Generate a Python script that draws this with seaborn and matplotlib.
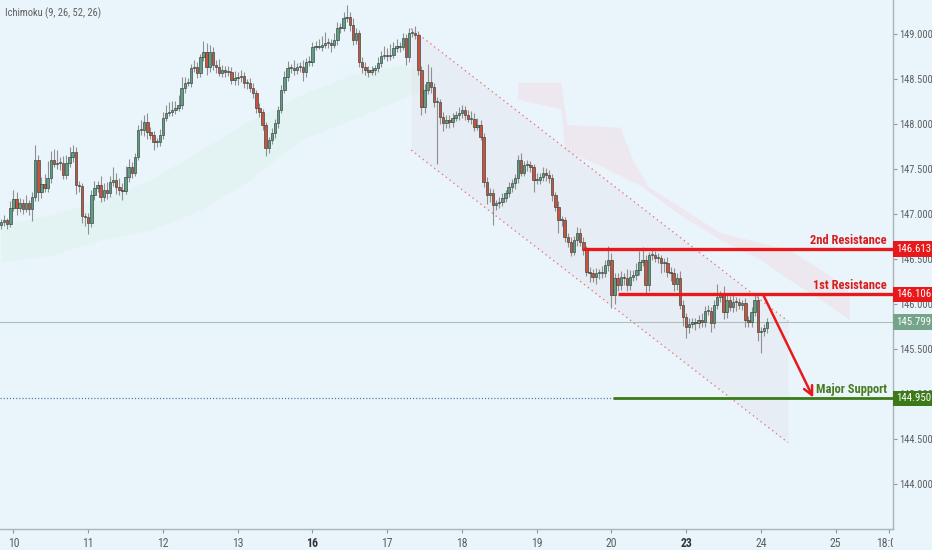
import numpy as np
import pandas as pd
import matplotlib
matplotlib.use('Agg')
import matplotlib.pyplot as plt
import seaborn as sns
from matplotlib import font_manager
from matplotlib.transforms import blended_transform_factory, Bbox, TransformedBbox

# hourly closes (24 candles per day)
close = [
    146.91, 146.93, 146.89, 147.07, 147.17, 147.07, 147.12, 147.06, 147.12, 147.06, 147.19, 147.60,
    147.24, 147.33, 147.29, 147.40, 147.60, 147.56, 147.57, 147.57, 147.43, 147.57, 147.63, 147.69,
    147.32, 147.31, 146.98, 146.97, 146.90, 147.21, 147.29, 147.32, 147.19, 147.27, 147.23, 147.36,
    147.38, 147.30, 147.27, 147.26, 147.41, 147.52, 147.46, 147.63, 147.93, 147.93, 148.02, 147.91,
    147.88, 147.80, 147.80, 147.88, 148.07, 148.12, 148.13, 148.16, 148.18, 148.21, 148.40, 148.46,
    148.46, 148.62, 148.63, 148.57, 148.74, 148.80, 148.63, 148.80, 148.66, 148.63, 148.57, 148.60,
    148.58, 148.58, 148.49, 148.51, 148.52, 148.53, 148.46, 148.46, 148.40, 148.34, 148.18, 148.13,
    147.99, 147.73, 147.82, 147.90, 148.01, 148.16, 148.38, 148.52, 148.62, 148.62, 148.60, 148.63,
    148.63, 148.58, 148.69, 148.69, 148.86, 148.86, 148.86, 148.88, 148.90, 148.90, 148.88, 148.93,
    149.07, 149.07, 149.18, 149.19, 149.10, 148.93, 149.01, 148.69, 148.63, 148.60, 148.58, 148.60,
    148.62, 148.68, 148.76, 148.77, 148.76, 148.77, 148.85, 148.86, 148.86, 148.96, 148.74, 149.01,
    149.01, 148.99, 148.60, 148.19, 148.38, 148.47, 148.41, 148.24, 148.24, 148.08, 148.01, 148.04,
    148.02, 148.07, 148.10, 148.12, 148.16, 148.10, 148.06, 148.06, 147.97, 147.99, 147.86, 147.36,
    147.21, 147.23, 147.10, 147.12, 147.13, 147.18, 147.23, 147.30, 147.34, 147.40, 147.60, 147.46,
    147.54, 147.54, 147.52, 147.38, 147.38, 147.41, 147.46, 147.43, 147.40, 147.21, 147.08, 146.93,
    146.93, 146.74, 146.69, 146.58, 146.71, 146.79, 146.69, 146.60, 146.36, 146.34, 146.30, 146.34,
    146.34, 146.34, 146.43, 146.49, 146.10, 146.29, 146.21, 146.30, 146.29, 146.21, 146.30, 146.32,
    146.38, 146.47, 146.49, 146.21, 146.54, 146.54, 146.51, 146.51, 146.46, 146.46, 146.36, 146.34,
    146.22, 146.29, 145.99, 145.86, 145.74, 145.78, 145.80, 145.79, 145.82, 145.80, 145.92, 145.92,
    145.79, 145.99, 146.08, 146.10, 145.91, 146.04, 145.97, 146.02, 146.02, 145.99, 146.01, 145.82,
    145.80, 145.91, 146.04, 145.69, 145.70, 145.73, 145.80,
]
first_open = 146.88

# wick lengths beyond the body, in pips (0.01)
wick_up = [
    4, 6, 3, 8, 10, 8, 6, 5, 9, 4, 5, 17, 6, 8, 12, 19, 10, 12, 14, 6, 8, 9, 11, 8,
    6, 5, 4, 3, 4, 6, 8, 5, 10, 7, 9, 6, 14, 8, 10, 7, 12, 9, 6, 5, 6, 12, 8, 10,
    6, 4, 5, 7, 6, 9, 12, 10, 8, 11, 12, 6, 5, 5, 8, 6, 4, 12, 10, 8, 6, 5, 9, 6,
    5, 6, 5, 8, 6, 7, 5, 4, 5, 6, 4, 5, 4, 3, 4, 6, 5, 4, 5, 7, 8, 5, 9, 5,
    6, 8, 4, 7, 5, 6, 8, 10, 12, 6, 5, 8, 6, 5, 7, 13, 5, 8, 6, 4, 5, 6, 4, 5,
    4, 6, 5, 10, 8, 12, 6, 8, 5, 5, 4, 6, 5, 8, 4, 5, 6, 20, 16, 5, 6, 4, 5, 6,
    6, 5, 5, 7, 5, 4, 6, 8, 6, 8, 5, 4, 5, 6, 5, 4, 6, 5, 4, 6, 5, 5, 6, 8,
    5, 6, 5, 4, 8, 5, 6, 5, 6, 5, 4, 6, 5, 4, 5, 6, 5, 7, 6, 5, 4, 5, 5, 6,
    5, 8, 6, 16, 8, 5, 6, 7, 5, 10, 8, 6, 8, 12, 14, 5, 4, 8, 5, 6, 4, 5, 6, 5,
    6, 5, 8, 5, 4, 6, 5, 4, 6, 8, 6, 7, 5, 6, 14, 5, 10, 6, 5, 8, 6, 5, 4, 6,
    5, 6, 8, 5, 4, 5, 4,
]
wick_dn = [
    5, 4, 6, 3, 4, 8, 5, 6, 4, 7, 14, 4, 10, 6, 5, 4, 5, 4, 6, 8, 4, 4, 5, 5,
    10, 6, 8, 10, 12, 4, 5, 4, 6, 5, 6, 4, 5, 8, 6, 10, 4, 5, 6, 4, 3, 5, 6, 8,
    5, 9, 6, 4, 5, 4, 3, 4, 5, 3, 4, 5, 4, 5, 4, 6, 5, 4, 8, 5, 6, 6, 4, 5,
    6, 5, 4, 6, 8, 5, 6, 7, 4, 5, 6, 5, 6, 8, 5, 4, 6, 5, 4, 3, 4, 5, 6, 4,
    5, 10, 6, 4, 5, 4, 3, 5, 4, 6, 8, 4, 5, 6, 4, 5, 7, 5, 4, 6, 6, 5, 6, 4,
    5, 4, 5, 4, 6, 5, 4, 5, 6, 4, 8, 5, 4, 5, 6, 9, 7, 5, 6, 5, 68, 8, 9, 5,
    6, 5, 4, 6, 5, 5, 4, 6, 5, 4, 4, 6, 10, 8, 22, 6, 5, 4, 5, 4, 5, 6, 5, 4,
    4, 6, 5, 14, 5, 5, 4, 6, 5, 6, 5, 14, 6, 5, 6, 5, 4, 6, 5, 6, 5, 10, 6, 8,
    6, 5, 4, 6, 14, 10, 6, 5, 8, 6, 5, 4, 5, 6, 5, 10, 6, 5, 4, 5, 12, 10, 6, 8,
    8, 6, 5, 10, 12, 6, 5, 8, 6, 5, 6, 4, 10, 6, 5, 6, 8, 6, 5, 6, 10, 5, 6, 8,
    6, 5, 4, 10, 23, 6, 5,
]

day_pos = [4, 28, 52, 76, 100, 124, 148, 172, 196, 220, 244, 268, 285]
day_labels = ['10', '11', '12', '13', '16', '17', '18', '19', '20', '23', '24', '25', '18:00']
week_start = ['16', '23']

# ichimoku cloud edges (candle index, price)
green_x = [0, 16, 32, 48, 64, 80, 96, 112, 128, 136]
green_top = [146.88, 146.99, 147.16, 147.38, 147.71, 148.04, 148.32, 148.54, 148.66, 148.60]
green_bot = [146.47, 146.54, 146.71, 146.82, 147.04, 147.38, 147.82, 148.04, 148.27, 148.38]
pink_top_x = [166, 180, 181, 182, 199, 203, 208, 218, 231, 253, 266, 272.6]
pink_top = [148.46, 148.46, 148.19, 147.99, 147.96, 147.60, 147.30, 147.08, 146.79, 146.60, 146.32, 146.12]
pink_bot_x = [166, 180, 181, 192, 205, 218, 231, 244, 253, 263, 272.6]
pink_bot = [148.27, 148.16, 147.71, 147.54, 147.32, 146.99, 146.71, 146.49, 146.27, 146.05, 145.82]

# drawn channel
chan_x = [131.7, 252.7]
chan_upper = [149.06, 145.81]
chan_lower = [147.71, 144.46]

res2, res2_from = 146.613, 187
res1, res1_from = 146.106, 198
support, support_from = 144.950, 196.5
last_price = 145.799
arrow_from = (244.7, 146.106)
arrow_to = (260.8, 144.96)

bg = '#eaf5fb'
red = '#e8191a'
green = '#3b7a17'
up_col = '#5e9f84'
dn_col = '#c9523e'

sns.set_theme(style='white', rc={'axes.facecolor': bg, 'figure.facecolor': bg})

# pick a narrow face if one is installed
faces = font_manager.fontManager.ttflist
names = {f.name for f in faces}
narrow = dict(family=['DejaVu Sans'], stretch='normal', scale=0.86)
for cand in ['Liberation Sans Narrow', 'Roboto Condensed', 'Open Sans Condensed', 'Noto Sans Condensed',
             'DejaVu Sans Condensed', 'Arial Narrow']:
    if cand in names:
        narrow = dict(family=[cand, 'DejaVu Sans'], stretch='normal', scale=1.0)
        break
else:
    cond = [f for f in faces if f.name in ('DejaVu Sans', 'Noto Sans', 'Roboto', 'Open Sans')
            and f.stretch not in ('normal', 500, 'medium')]
    if cond:
        narrow = dict(family=[cond[0].name, 'DejaVu Sans'], stretch=cond[0].stretch, scale=1.0)
    elif 'Roboto' in names:
        narrow = dict(family=['Roboto', 'DejaVu Sans'], stretch='normal', scale=0.9)
plt.rcParams['font.family'] = narrow['family']
plt.rcParams['font.stretch'] = narrow['stretch']
fs = 8.5 * narrow['scale']
fs_axis = 7.5 * narrow['scale']

fig = plt.figure(figsize=(9.32, 5.5), dpi=100)
ax = fig.add_axes([0, 0.0382, 0.9582, 0.9618])
ax.set_facecolor(bg)

df = pd.DataFrame({'close': close})
df['open'] = df['close'].shift(1).fillna(first_open)
body_top = df[['open', 'close']].max(axis=1)
body_bot = df[['open', 'close']].min(axis=1)
df['high'] = body_top + np.array(wick_up) / 100
df['low'] = body_bot - np.array(wick_dn) / 100
rising = df['close'] >= df['open']

# clouds and channel
ax.fill_between(green_x, green_top, green_bot, color='#d6f0e4', alpha=0.3, lw=0, zorder=1)
ax.fill(pink_top_x + pink_bot_x[::-1], pink_top + pink_bot[::-1], color='#f1dde6', alpha=0.5, lw=0, zorder=1)
ax.fill_between(chan_x, chan_upper, chan_lower, color='#e2dfe6', alpha=0.33, lw=0, zorder=1.2)
sns.lineplot(x=chan_x, y=chan_upper, ax=ax, color='#ec7a7a', lw=1, linestyle=(0, (1, 2.5)), zorder=2)
sns.lineplot(x=chan_x, y=chan_lower, ax=ax, color='#ec7a7a', lw=1, linestyle=(0, (1, 2.5)), zorder=2)

# candles
ax.vlines(df.index, df['low'], df['high'], color='#8f8f8f', lw=0.8, zorder=3)
ax.bar(df.index, (body_top - body_bot).clip(lower=0.012), bottom=body_bot, width=0.78,
       color=np.where(rising, up_col, dn_col), edgecolor='#33403a', linewidth=0.45, zorder=4)

xmin, xmax = -0.32, 286.44
ax.set_xlim(xmin, xmax)
ax.set_ylim(143.50, 149.378)

# levels
ax.axhline(last_price, color='#a9c0bb', lw=0.8, zorder=2.5)
ax.hlines(support, xmin, support_from, color='#5b7fa3', lw=0.9, linestyles=(0, (1, 1.5)), zorder=2.5)
ax.hlines(support, support_from, xmax, color=green, lw=2, zorder=5)
ax.hlines(res2, res2_from, xmax, color=red, lw=2.4, zorder=5)
ax.hlines(res1, res1_from, xmax, color=red, lw=2.4, zorder=5)
ax.annotate('', xy=arrow_to, xytext=arrow_from,
            arrowprops=dict(arrowstyle='->', color=red, lw=1.8, mutation_scale=16, shrinkA=0, shrinkB=0),
            zorder=6)

trans = blended_transform_factory(ax.transAxes, ax.transData)
for txt, price, col in [('2nd Resistance', res2, '#d91c1c'), ('1st Resistance', res1, '#d91c1c'),
                        ('Major Support', support, '#4a7a22')]:
    ax.annotate(txt, xy=(0.993, price), xycoords=trans, xytext=(0, 1.5), textcoords='offset points',
                ha='right', va='bottom', color=col, fontsize=9.0 * narrow['scale'], fontweight='bold', zorder=7)

for price, fc in [(res2, red), (res1, red), (support, green), (last_price, '#74a48a')]:
    ax.text(1.0035, price, f'{price:.3f}', transform=trans, ha='left', va='center', color='white',
            fontsize=7.8 * narrow['scale'], clip_on=False, zorder=10,
            bbox=dict(boxstyle='square,pad=0.25', fc=fc, ec='none'))

# axes styling
ax.yaxis.tick_right()
ax.set_yticks(np.arange(144.0, 149.01, 0.5))
ax.set_yticklabels([f'{v:.3f}' for v in np.arange(144.0, 149.01, 0.5)])
ax.tick_params(axis='y', right=True, length=3, width=0.8, color='#8c9aa0', labelsize=fs_axis,
               labelcolor='#5e5e5e', pad=1.2)
ax.set_xticks(day_pos)
ax.set_xticklabels(day_labels)
ax.tick_params(axis='x', bottom=True, length=3, width=0.8, color='#8c9aa0', labelsize=fs,
               labelcolor='#5e5e5e', pad=3)
clip = TransformedBbox(Bbox([[0, 0], [0.9582, 1]]), fig.transFigure)
for lbl in ax.get_xticklabels():
    if lbl.get_text() in week_start:
        lbl.set_fontweight('bold')
        lbl.set_color('#333333')
    lbl.set_clip_box(clip)
    lbl.set_clip_on(True)
for side in ['top', 'left']:
    ax.spines[side].set_visible(False)
for side in ['right', 'bottom']:
    ax.spines[side].set_color('#aab4b8')
    ax.spines[side].set_linewidth(1)

fig.text(5 / 932, 1 - 13 / 550, 'Ichimoku (9, 26, 52, 26)', fontsize=7.6 * narrow['scale'],
         color='#5f5f5f', va='center')

fig.savefig('out.png', dpi=100, facecolor=bg)
